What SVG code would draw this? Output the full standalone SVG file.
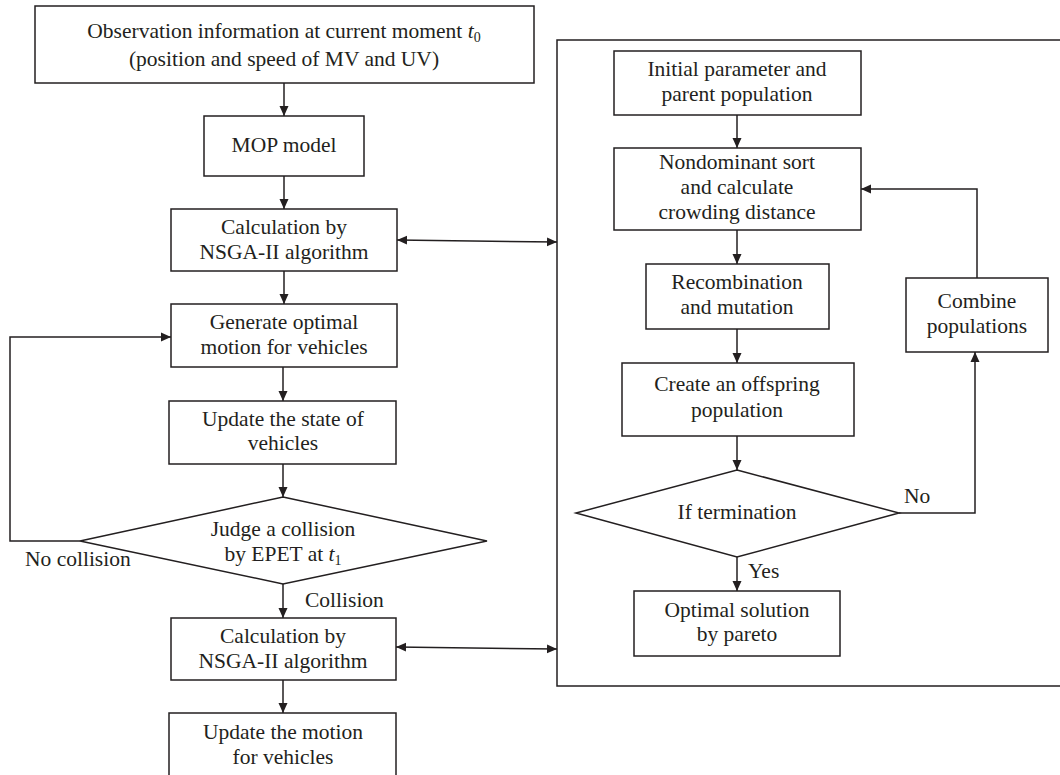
<svg xmlns="http://www.w3.org/2000/svg" width="1060" height="775" viewBox="0 0 1060 775">
<style>
.box{fill:#fff;stroke:#231f20;stroke-width:1.5}
.ln{fill:none;stroke:#231f20;stroke-width:1.5}
.arr{marker-end:url(#ah)}
.dbl{marker-start:url(#ah);marker-end:url(#ah)}
text{font-family:"Liberation Serif","Times New Roman",serif;font-size:21.5px;fill:#231f20;text-anchor:middle}
.lbl{text-anchor:start}
.sub{font-size:14px}
</style>
<defs>
<marker id="ah" markerUnits="userSpaceOnUse" markerWidth="11" markerHeight="10" refX="10" refY="5" orient="auto-start-reverse" viewBox="0 0 11 10">
<path d="M0,0.5 L10,5 L0,9.5 z" fill="#231f20"/>
</marker>
</defs>
<rect width="1060" height="775" fill="#fff"/>
<g id="connectors">
<line class="ln arr" x1="284" y1="83" x2="284" y2="116"/>
<line class="ln arr" x1="284" y1="176" x2="284" y2="209"/>
<line class="ln arr" x1="284" y1="271" x2="284" y2="304"/>
<line class="ln arr" x1="283" y1="367" x2="283" y2="401"/>
<line class="ln arr" x1="283" y1="464" x2="283" y2="497"/>
<polyline class="ln arr" points="80,541 10,541 10,337 171,337"/>
<line class="ln arr" x1="283" y1="584" x2="283" y2="618"/>
<line class="ln arr" x1="283" y1="680" x2="283" y2="713"/>
<line class="ln dbl" x1="397" y1="240" x2="557" y2="242"/>
<line class="ln dbl" x1="396" y1="647" x2="557" y2="649"/>
<line class="ln arr" x1="737" y1="115" x2="737" y2="148"/>
<line class="ln arr" x1="737" y1="230" x2="737" y2="264"/>
<line class="ln arr" x1="737" y1="329" x2="737" y2="363"/>
<line class="ln arr" x1="737" y1="436" x2="737" y2="470"/>
<line class="ln arr" x1="737" y1="557" x2="737" y2="591"/>
<polyline class="ln arr" points="899,513 975,513 975,352"/>
<polyline class="ln arr" points="977,278 977,189 861,189"/>
<text class="lbl" x="25" y="566">No collision</text>
<text class="lbl" x="305" y="607">Collision</text>
<text class="lbl" x="904" y="503">No</text>
<text class="lbl" x="748" y="578">Yes</text>
</g>
<g id="ga-frame">
<polyline class="ln" points="1061,40 557,40 557,686 1061,686"/>
</g>
<g id="n-observation">
<rect class="box" x="35" y="6" width="499" height="77"/>
<text x="284" y="38">Observation information at current moment <tspan font-style="italic">t</tspan><tspan class="sub" dy="4">0</tspan></text>
<text x="284" y="66">(position and speed of MV and UV)</text>
</g>
<g id="n-mop">
<rect class="box" x="204" y="116" width="160" height="60"/>
<text x="284" y="152">MOP model</text>
</g>
<g id="n-calc1">
<rect class="box" x="171" y="209" width="226" height="62"/>
<text x="284" y="234">Calculation by</text>
<text x="284" y="259">NSGA-II algorithm</text>
</g>
<g id="n-generate">
<rect class="box" x="171" y="304" width="226" height="63"/>
<text x="284" y="329">Generate optimal</text>
<text x="284" y="354">motion for vehicles</text>
</g>
<g id="n-update-state">
<rect class="box" x="169" y="401" width="227" height="63"/>
<text x="283" y="426">Update the state of</text>
<text x="283" y="450">vehicles</text>
</g>
<g id="n-judge">
<polygon class="box" points="283,497 487,541 283,584 80,541"/>
<text x="283" y="536">Judge a collision</text>
<text x="283" y="561">by EPET at <tspan font-style="italic">t</tspan><tspan class="sub" dy="4">1</tspan></text>
</g>
<g id="n-calc2">
<rect class="box" x="171" y="618" width="225" height="62"/>
<text x="283" y="643">Calculation by</text>
<text x="283" y="668">NSGA-II algorithm</text>
</g>
<g id="n-update-motion">
<rect class="box" x="169" y="713" width="227" height="70"/>
<text x="283" y="739">Update the motion</text>
<text x="283" y="764">for vehicles</text>
</g>
<g id="n-initial">
<rect class="box" x="614" y="51" width="247" height="64"/>
<text x="737" y="76">Initial parameter and</text>
<text x="737" y="101">parent population</text>
</g>
<g id="n-nondominant">
<rect class="box" x="614" y="148" width="247" height="82"/>
<text x="737" y="169">Nondominant sort</text>
<text x="737" y="194">and calculate</text>
<text x="737" y="219">crowding distance</text>
</g>
<g id="n-recombination">
<rect class="box" x="646" y="264" width="183" height="65"/>
<text x="737" y="289">Recombination</text>
<text x="737" y="314">and mutation</text>
</g>
<g id="n-create">
<rect class="box" x="622" y="363" width="232" height="73"/>
<text x="737" y="391">Create an offspring</text>
<text x="737" y="417">population</text>
</g>
<g id="n-termination">
<polygon class="box" points="737,470 899,513 737,557 576,513"/>
<text x="737" y="519">If termination</text>
</g>
<g id="n-optimal">
<rect class="box" x="634" y="591" width="206" height="65"/>
<text x="737" y="617">Optimal solution</text>
<text x="737" y="641">by pareto</text>
</g>
<g id="n-combine">
<rect class="box" x="906" y="278" width="142" height="74"/>
<text x="977" y="308">Combine</text>
<text x="977" y="333">populations</text>
</g>
</svg>
